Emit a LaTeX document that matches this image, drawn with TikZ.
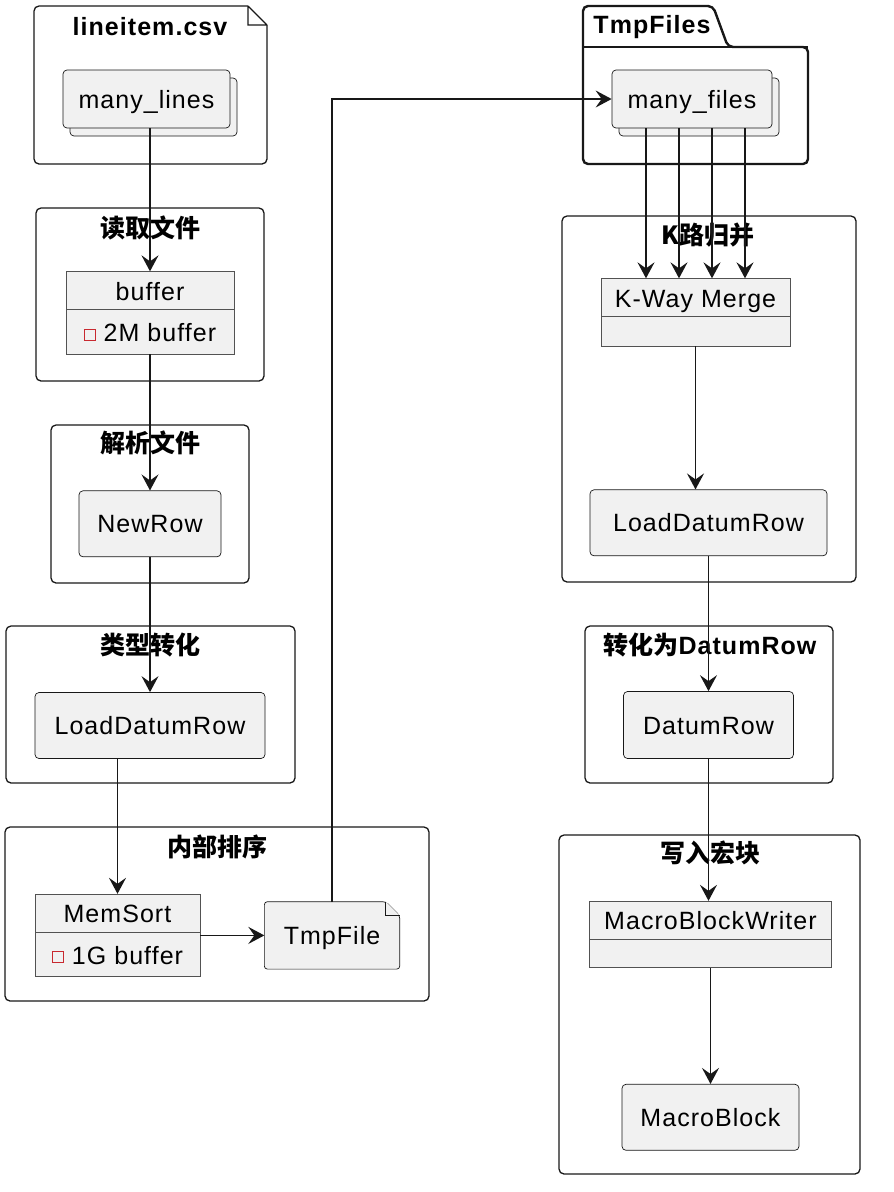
\documentclass[tikz,border=0pt]{standalone}
\usepackage{fontspec}
\setmainfont{Liberation Sans}[LetterSpace=4.2]
\newfontfamily\cjk{Noto Sans CJK SC}
\usetikzlibrary{shapes.multipart,shadows,arrows.meta}
\usetikzlibrary{positioning,backgrounds}
\definecolor{boxfill}{HTML}{F1F1F1}
\definecolor{linecol}{HTML}{181818}
\definecolor{iconred}{HTML}{C82930}
\newcommand\nodefont{\fontsize{25}{30}\selectfont}
\newcommand\privicon{\raisebox{2pt}{\color{iconred}\setlength\fboxsep{0pt}\setlength\fboxrule{1pt}\fbox{\rule{0pt}{10pt}\hspace{10pt}}}}
\newcommand\hstrut{\rule[-9pt]{0pt}{37pt}}
\newcommand\mstrut{\rule[-12pt]{0pt}{44pt}}
\newcommand\estrut[1]{\phantom{\rule{1pt}{#1pt}}}
\tikzset{
    item/.style={rectangle,draw=linecol,fill=boxfill,rounded corners=4pt,line width=0.7pt,font=\nodefont,inner sep=0pt,text height=18pt,text depth=0pt},
    stacked/.style={item,copy shadow={shadow xshift=7pt,shadow yshift=-8pt}},
    classbox/.style={rectangle split,rectangle split parts=2,draw=linecol!75,fill=boxfill,line width=0.7pt,font=\nodefont,inner xsep=4pt,inner ysep=0pt},
    notebox/.style={draw=linecol,fill=boxfill,line width=0.7pt},
    frame/.style={draw=linecol,line width=1.3pt,rounded corners=5pt},
    title/.style={font=\nodefont\bfseries,inner sep=0pt},
    flow/.style={draw=linecol,line width=1.7pt,-{Stealth[length=16pt,width=17pt,inset=6pt]}},
}

\begin{document}
\begin{tikzpicture}[x=1pt,y=-1pt]
\useasboundingbox (0,0) rectangle (894,1192);
\node[stacked,minimum width=167,minimum height=58] (lines) at (146.5,99) {many\_lines};
\node[classbox,minimum width=168,below=143pt of lines,xshift=3.5pt] (buf) {\hstrut buffer\nodepart{two}\mstrut\privicon~2M buffer};
\node[item,minimum width=142,minimum height=66,below=136pt of buf] (newrow) {NewRow};
\node[item,minimum width=230,minimum height=66,below=135pt of newrow] (loadl) {LoadDatumRow};
\node[classbox,minimum width=165,below right=135pt and 0pt of loadl.south west] (memsort) {\hstrut MemSort\nodepart{two}\mstrut\privicon~1G buffer};
\node[font=\nodefont,minimum width=135,minimum height=67,inner sep=0pt,text height=18pt,text depth=0pt,right=64pt of memsort] (tmpf) {TmpFile};

\node[stacked,minimum width=160,minimum height=58] (files) at (692,99) {many\_files};
\node[classbox,minimum width=189,below=150pt of files,xshift=3.5pt] (kway) {\hstrut K-Way Merge\nodepart{two}\estrut{29}};
\node[item,minimum width=237,minimum height=66,below=143pt of kway,xshift=13pt] (loadr) {LoadDatumRow};
\node[item,minimum width=170,minimum height=67,below=135pt of loadr] (datum) {DatumRow};
\node[classbox,minimum width=242,below=142pt of datum,xshift=2pt] (mbw) {\hstrut MacroBlockWriter\nodepart{two}\estrut{28}};
\node[item,minimum width=177,minimum height=66,below=116pt of mbw] (mblock) {MacroBlock};

\node[title] (t1) at (150,27) {lineitem.csv};
\node[title] (t2) at (150,228) {\cjk 读取文件};
\node[title] (t3) at (150,443) {\cjk 解析文件};
\node[title] (t4) at (150,645) {\cjk 类型转化};
\node[title] (t5) at (217,847) {\cjk 内部排序};
\node[title] (t6) at (652,27) {TmpFiles};
\node[title] (t7) at (708,235) {\cjk K路归并};
\node[title] (t8) at (710,645) {{\cjk 转化为}DatumRow};
\node[title] (t9) at (710,853) {\cjk 写入宏块};

\begin{scope}[on background layer]
\draw[frame] (248,6) -- (34,6) -- (34,164) -- (267,164) -- (267,25);
\draw[draw=linecol,line width=1.3pt] (248,6) -- (267,25) (248,6) |- (267,25);
\draw[frame] (36,208) rectangle (264,381);
\draw[frame] (51,425) rectangle (249,583);
\draw[frame] (6,626) rectangle (295,783);
\draw[frame] (5,827) rectangle (429,1001);
\draw[frame,line width=2.4pt] (583,47) -- (583,6) -- (713,6) -- (728,47) -- (808,47) -- (808,164) -- (583,164) -- cycle;
\draw[draw=linecol,line width=1.2pt] (583,47) -- (808,47);
\draw[frame] (562,216) rectangle (856,582);
\draw[frame] (585,626) rectangle (833,783);
\draw[frame] (559,835) rectangle (860,1174);
\draw[notebox,rounded corners=3pt] (tmpf.north west) -- ([xshift=-14pt]tmpf.north east) -- ([yshift=-14pt]tmpf.north east) -- (tmpf.south east) -- (tmpf.south west) -- cycle;
\draw[notebox] ([xshift=-14pt]tmpf.north east) |- ([yshift=-14pt]tmpf.north east);
\end{scope}

\draw[flow] (lines.south -| buf.north) -- (buf.north);
\draw[flow] (buf.south) -- (newrow.north);
\draw[flow] (newrow.south) -- (loadl.north);
\draw[flow] (memsort.north |- loadl.south) -- (memsort.north);
\draw[flow] (memsort.east) -- (tmpf.west);
\draw[flow] (tmpf.north) |- (files.west);
\foreach \dx in {-46,-13,20,53}
  \draw[flow] ([xshift=\dx pt]files.south) -- ([xshift=\dx pt]files.south |- kway.north);
\draw[flow] (kway.south) -- (kway.south |- loadr.north);
\draw[flow] (datum.north |- loadr.south) -- (datum.north);
\draw[flow] (datum.south) -- (datum.south |- mbw.north);
\draw[flow] (mblock.north |- mbw.south) -- (mblock.north);
\end{tikzpicture}
\end{document}
